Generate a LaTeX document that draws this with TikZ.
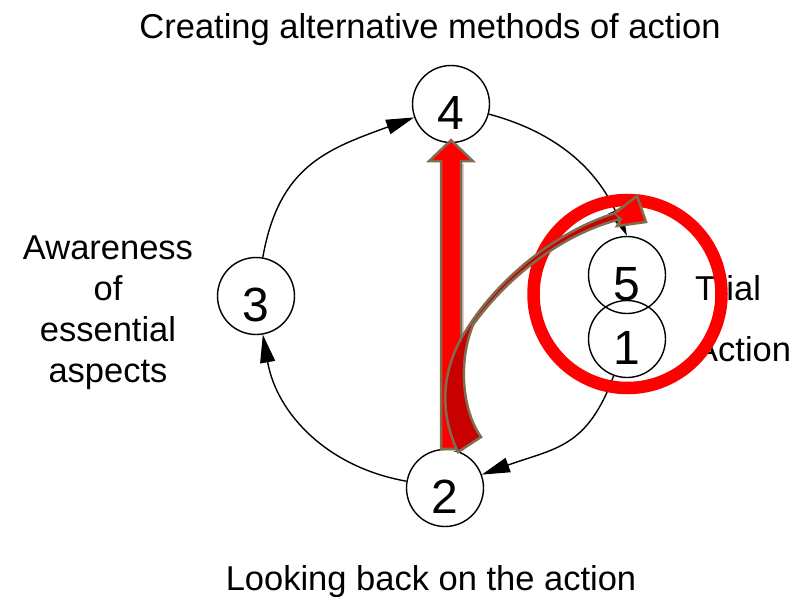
\documentclass[tikz,border=0pt]{standalone}
\usepackage{fontspec}
\setmainfont{Liberation Sans}
\usetikzlibrary{arrows.meta,calc}
\definecolor{ringred}{RGB}{255,0,0}
\definecolor{deepred}{RGB}{200,0,0}
\definecolor{edgebrown}{RGB}{128,108,78}
\begin{document}
\begin{tikzpicture}[x=1pt,y=1pt,>={Triangle[length=28pt,width=15pt]},
  every node/.style={font=\fontsize{34.5}{41}\selectfont,inner sep=0pt},
  stage/.style={draw,circle,line width=1.4pt,minimum size=77pt},
  num/.style={font=\fontsize{48}{48}\selectfont,yshift=-9pt},
  cyc/.style={->,line width=1.4pt},
  edge/.style={draw=edgebrown,line width=2.5pt,line join=miter}]
\useasboundingbox (0,0) rectangle (798,-597);
% texts
\node[anchor=base] (ttl) at (430,-38) {Creating alternative methods of action};
\node[anchor=base] (back) at (431,-590) {Looking back on the action};
\node[align=center] (aware) at (108,-313) {Awareness\\of\\essential\\aspects};
\node[anchor=base west] (trial) at (695,-300) {Trial};
\node[anchor=base west] (act) at (695,-361) {Action};
% stages
\node[stage,label={[num]center:4}] (s4) at (451,-104) {};
\node[stage,label={[num]center:2}] (s2) at (445,-488) {};
\node[stage,label={[num]center:3}] (s3) at (256,-296) {};
\node[stage,label={[num]center:5}] (s5) at (627,-275) {};
\node[stage,label={[num]center:1}] (s1) at (627,-339) {};
\draw[cyc] (s1) to[out=-110,in=20,looseness=1.2] (s2);
\draw[cyc] (s2) to[out=170,in=-80] (s3);
\draw[cyc] (s3) to[out=80,in=-160,looseness=1.15] (s4);
\draw[cyc] (s4) to[out=-15,in=115] (s5.north);
% red ring
\draw[ringred,line width=12.5pt] (627.5,-294) circle [radius=94];
% straight block arrow
\coordinate (ub) at (s4.south |- s2.north);
\coordinate (tip) at ([yshift=3pt]s4.south);
\fill[gray!35] ($(ub)+(-7,-2)$) -- ($(tip)+(-7,-24)$) -- ($(tip)+(13,-24)$) -- ($(ub)+(13,-2)$) -- cycle;
\path[edge,fill=ringred] ($(ub)+(-10,0)$) -- ($(tip)+(-10,-21)$) -- ($(tip)+(-22,-21)$) -- (tip)
  -- ($(tip)+(22,-21)$) -- ($(tip)+(10,-21)$) -- ($(ub)+(10,0)$) -- cycle;
% curved arrow
\path[edge,fill=deepred] (458,-452) .. controls (440,-415) and (440,-372) .. (465,-332)
  .. controls (498,-278) and (556,-232) .. (615,-213) -- (621,-219)
  .. controls (560,-234) and (505,-280) .. (473,-325)
  .. controls (458,-362) and (462,-410) .. (481,-437) -- cycle;
\fill[ringred] (613,-212) -- (637,-196) -- (646,-222) -- (617,-226) -- (623,-219) -- cycle;
\draw[edge] (615,-213) -- (637,-196) -- (646,-222) -- (617,-226) -- (621,-219);
\end{tikzpicture}
\end{document}
